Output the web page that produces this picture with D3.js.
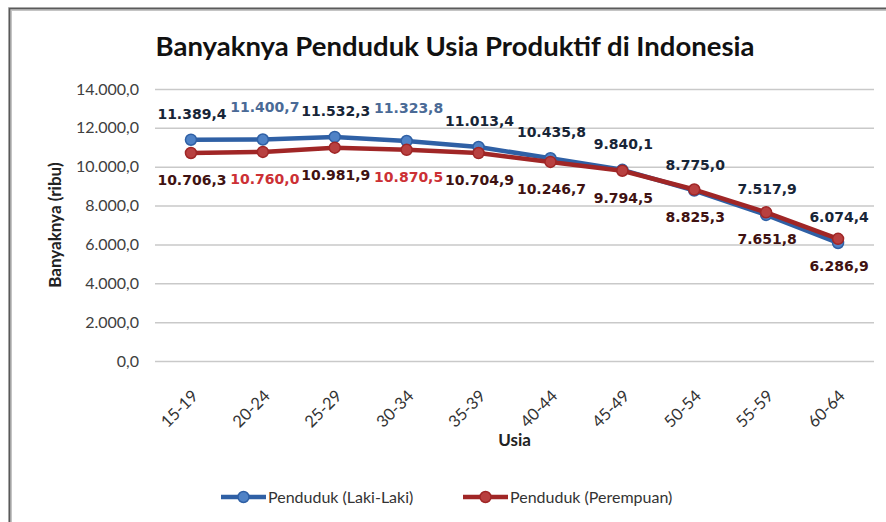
<!DOCTYPE html>
<html>
<head>
<meta charset="utf-8">
<script src="https://cdn.jsdelivr.net/npm/d3@7"></script>
<style>
  body { margin: 0; background: #fff; }
  #chart text { font-family: Lato, "Open Sans", sans-serif; }
  #chart .lbl { font-family: "DejaVu Sans", sans-serif; font-weight: bold; font-size: 14px; }
</style>
</head>
<body>
<div id="chart"></div>
<script>
// data
const usia = ["15-19", "20-24", "25-29", "30-34", "35-39", "40-44", "45-49", "50-54", "55-59", "60-64"];
const lakiLaki = [11389.4, 11400.7, 11532.3, 11323.8, 11013.4, 10435.8, 9840.1, 8775.0, 7517.9, 6074.4];
const perempuan = [10706.3, 10760.0, 10981.9, 10870.5, 10704.9, 10246.7, 9794.5, 8825.3, 7651.8, 6286.9];
const yTicks = [0, 2000, 4000, 6000, 8000, 10000, 12000, 14000];
const seriesNames = ["Penduduk (Laki-Laki)", "Penduduk (Perempuan)"];

const W = 886, H = 522;
const margin = { top: 89, right: 12, bottom: 161, left: 155 };
const width = W - margin.left - margin.right,
  height = H - margin.top - margin.bottom;

const idLocale = d3.formatLocale({ decimal: ",", thousands: ".", grouping: [3], currency: ["Rp", ""] });
const fmt = idLocale.format(",.1f");

const svg = d3.select("#chart").append("svg").attr("width", W).attr("height", H);

// bingkai
svg.append("path").attr("d", "M10,522V9H886").attr("fill", "none")
  .attr("stroke", "#c4c4c4").attr("stroke-width", 4);
svg.append("path").attr("d", "M9.5,522V8.5H886").attr("fill", "none")
  .attr("stroke", "#5a5a5a").attr("stroke-width", 1.6);

svg.append("text")
  .attr("x", 455).attr("y", 56)
  .attr("text-anchor", "middle")
  .style("font-size", "27.5px").style("font-weight", "bold").style("fill", "#111")
  .text("Banyaknya Penduduk Usia Produktif di Indonesia");

const g = svg.append("g").attr("transform", "translate(" + margin.left + "," + margin.top + ")");

const x = d3.scaleBand().domain(usia).range([0, width]);
const y = d3.scaleLinear().domain([0, 14000]).range([height, 0]);
const cx = (d) => x(d) + x.bandwidth() / 2;

// grid + sumbu y
const yAxis = g.append("g")
  .call(d3.axisLeft(y).tickValues(yTicks).tickSize(-width).tickPadding(16).tickFormat(fmt));
yAxis.select(".domain").remove();
yAxis.selectAll("line").attr("stroke", "#c9c9c9").attr("stroke-width", 1.5);
yAxis.selectAll("text").style("font-size", "16px").style("fill", "#404040");

// sumbu x
const xAxis = g.append("g").attr("transform", "translate(0," + height + ")")
  .call(d3.axisBottom(x).tickSize(0));
xAxis.select(".domain").remove();
xAxis.selectAll("text")
  .attr("y", 0).attr("dy", "0.35em")
  .style("text-anchor", "end")
  .attr("transform", "translate(4,32) rotate(-45)")
  .style("font-size", "16.5px").style("fill", "#333");

g.append("text")
  .attr("x", width / 2).attr("y", height + 85)
  .attr("text-anchor", "middle")
  .style("font-size", "17px").style("font-weight", "bold").style("fill", "#222")
  .text("Usia");

g.append("text")
  .attr("transform", "rotate(-90)")
  .attr("x", -(225 - margin.top)).attr("y", -94)
  .attr("text-anchor", "middle")
  .style("font-size", "17px").style("font-weight", "bold").style("fill", "#222")
  .text("Banyaknya (ribu)");

const series = [
  { vals: lakiLaki, line: "#2f60a5", fill: "#4f82c6", lab: "#172537", labHi: "#4a6a96", above: true },
  { vals: perempuan, line: "#a02626", fill: "#b84040", lab: "#3f1212", labHi: "#cc3035", above: false }
];
const hi = ["20-24", "30-34"];

const line = d3.line().x((d) => cx(d[0])).y((d) => y(d[1]));

series.forEach((s) => {
  const pts = usia.map((u, i) => [u, s.vals[i]]);
  g.append("path").datum(pts)
    .attr("fill", "none").attr("stroke", s.line).attr("stroke-width", 4.5)
    .attr("stroke-linejoin", "round").attr("d", line);
  g.selectAll(null).data(pts).enter().append("circle")
    .attr("cx", (d) => cx(d[0])).attr("cy", (d) => y(d[1])).attr("r", 5.5)
    .attr("fill", s.fill).attr("stroke", s.line).attr("stroke-width", 1.5);
});

// label nilai
series.forEach((s) => {
  g.selectAll(null).data(usia.map((u, i) => [u, s.vals[i]])).enter().append("text")
    .attr("class", "lbl")
    .attr("x", (d) => cx(d[0]) + (hi.includes(d[0]) ? 2 : 1))
    .attr("y", (d) => s.above ? y(d[1]) - (hi.includes(d[0]) ? 28 : 21) : y(d[1]) + 32)
    .attr("text-anchor", "middle")
    .style("fill", (d) => hi.includes(d[0]) ? s.labHi : s.lab)
    .text((d) => fmt(d[1]));
});

// legenda
const leg = svg.append("g").attr("transform", "translate(0,497)");
const legX = [221, 463];
series.forEach((s, i) => {
  const lg = leg.append("g").attr("transform", "translate(" + legX[i] + ",0)");
  lg.append("line").attr("x1", 0).attr("x2", 45).attr("stroke", s.line).attr("stroke-width", 4.5);
  lg.append("circle").attr("cx", 22.5).attr("r", 5.5).attr("fill", s.fill).attr("stroke", s.line).attr("stroke-width", 1.5);
  lg.append("text").attr("x", 47).attr("dy", "0.35em")
    .style("font-size", "16px").style("fill", "#333").text(seriesNames[i]);
});
</script>
</body>
</html>
